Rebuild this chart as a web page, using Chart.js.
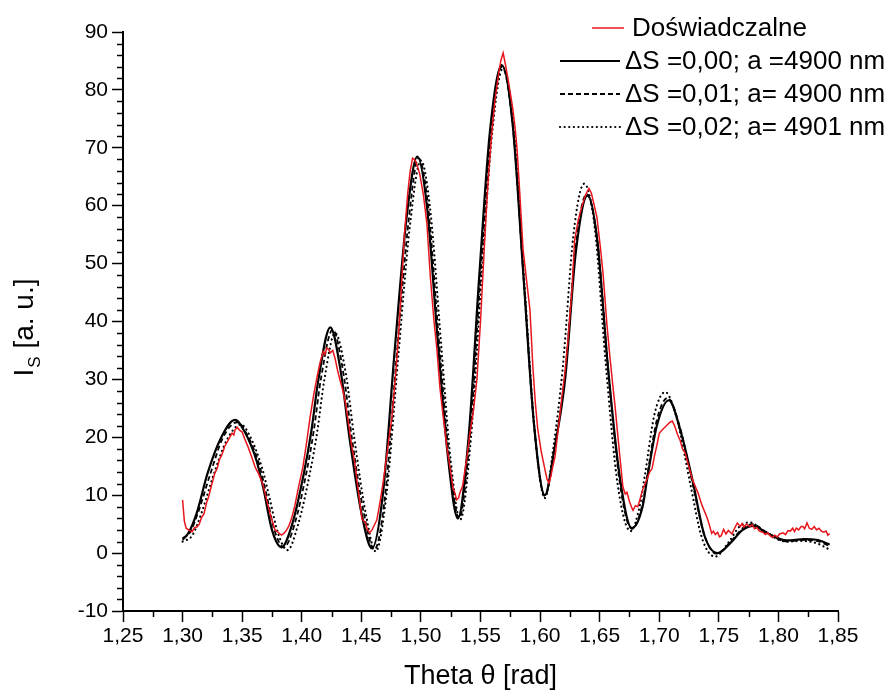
<!DOCTYPE html>
<html>
<head>
<meta charset="utf-8">
<script src="https://cdn.jsdelivr.net/npm/chart.js@4.4.1/dist/chart.umd.min.js"></script>
<style>
  html, body { margin: 0; padding: 0; background: #fff; }
  #wrap { width: 894px; height: 693px; }
</style>
</head>
<body>
<div id="wrap"><canvas id="chart" width="894" height="693"></canvas></div>
<script>
// [theta (rad), intensity (a.u.)]
const experimental = [
  [1.300, 9.2], [1.3015, 5.5], [1.303, 4.3], [1.305, 4.0], [1.308, 3.7], [1.310, 4.4], [1.312, 4.5],
  [1.314, 5.0], [1.316, 6.2], [1.318, 6.8], [1.320, 8.6], [1.322, 9.8], [1.324, 11.5], [1.327, 13.8],
  [1.329, 14.6], [1.331, 16.2], [1.333, 17.0], [1.3355, 18.5], [1.338, 19.4], [1.3415, 20.7], [1.343, 20.4],
  [1.344, 21.3], [1.346, 21.7], [1.348, 21.2], [1.350, 20.9], [1.352, 19.8], [1.355, 18.3], [1.358, 16.6],
  [1.361, 14.8], [1.364, 13.6], [1.3675, 11.8], [1.371, 8.8], [1.3745, 6.0], [1.3776, 4.0], [1.380, 3.6],
  [1.383, 3.1], [1.385, 3.4], [1.387, 3.9], [1.389, 4.6], [1.3915, 6.0], [1.394, 8.0], [1.3975, 11.6],
  [1.401, 14.9], [1.404, 19.0], [1.407, 23.5], [1.410, 27.3], [1.4128, 30.4], [1.4155, 33.0], [1.418, 34.8],
  [1.4195, 34.3], [1.421, 35.4], [1.4225, 35.2], [1.424, 34.6], [1.426, 35.0], [1.428, 33.6], [1.430, 31.6],
  [1.4325, 29.6], [1.4346, 28.0], [1.437, 25.6], [1.4395, 22.0], [1.442, 18.4], [1.4446, 15.5], [1.447, 11.5],
  [1.4495, 7.5], [1.4505, 5.9], [1.452, 5.6], [1.4535, 5.2], [1.455, 4.1], [1.457, 3.5], [1.459, 4.0],
  [1.461, 4.9], [1.463, 5.7], [1.4655, 8.6], [1.468, 11.8], [1.470, 14.8], [1.473, 19.5], [1.4757, 23.5],
  [1.478, 29.0], [1.480, 34.0], [1.483, 43.5], [1.486, 54.5], [1.489, 62.3], [1.491, 66.0], [1.493, 68.2],
  [1.4945, 68.0], [1.496, 67.5], [1.499, 65.5], [1.502, 62.0], [1.505, 57.0], [1.508, 47.5], [1.511, 40.0],
  [1.5135, 35.0], [1.516, 28.5], [1.519, 23.0], [1.522, 18.0], [1.525, 14.0], [1.527, 11.2], [1.5285, 10.4],
  [1.530, 9.2], [1.5315, 9.5], [1.533, 10.6], [1.535, 11.6], [1.5386, 16.6], [1.541, 20.5], [1.544, 24.5],
  [1.547, 30.0], [1.550, 40.0], [1.553, 52.0], [1.556, 63.0], [1.559, 71.5], [1.562, 78.0], [1.565, 82.5],
  [1.567, 85.0], [1.569, 86.4], [1.571, 84.3], [1.573, 82.0], [1.575, 79.5], [1.577, 76.9], [1.579, 73.5],
  [1.5806, 70.0], [1.583, 62.0], [1.5857, 52.5], [1.589, 46.5], [1.5915, 42.0], [1.594, 32.0], [1.596, 26.0],
  [1.598, 21.5], [1.601, 17.5], [1.604, 14.5], [1.6058, 12.8], [1.6074, 12.1], [1.609, 13.2], [1.6105, 14.8],
  [1.6125, 16.6], [1.615, 21.0], [1.618, 26.4], [1.621, 31.5], [1.6234, 36.8], [1.6267, 45.4], [1.629, 54.0],
  [1.632, 57.5], [1.635, 59.8], [1.638, 61.8], [1.641, 63.0], [1.643, 62.2], [1.6455, 60.0], [1.6477, 58.0],
  [1.6505, 53.0], [1.6528, 48.4], [1.656, 39.7], [1.6586, 33.9], [1.661, 29.0], [1.663, 25.2], [1.665, 20.8],
  [1.667, 16.6], [1.6695, 11.4], [1.6715, 10.2], [1.6729, 10.5], [1.675, 8.9], [1.677, 7.8], [1.678, 7.4],
  [1.680, 8.2], [1.682, 8.0], [1.684, 9.4], [1.686, 10.9], [1.689, 12.4], [1.692, 14.0], [1.694, 14.6],
  [1.696, 16.8], [1.698, 18.6], [1.700, 20.7], [1.703, 21.4], [1.706, 22.0], [1.709, 22.6], [1.711, 22.8],
  [1.713, 21.9], [1.7155, 20.4], [1.7175, 19.5], [1.7195, 18.0], [1.7215, 17.4], [1.725, 14.8], [1.728, 12.6],
  [1.7325, 10.4], [1.736, 8.2], [1.740, 6.2], [1.742, 4.9], [1.744, 3.4], [1.7455, 3.8], [1.747, 3.2],
  [1.749, 3.6], [1.7505, 2.8], [1.752, 3.0], [1.754, 4.1], [1.756, 3.3], [1.758, 3.9], [1.761, 3.3],
  [1.763, 4.2], [1.7655, 5.2], [1.768, 4.6], [1.7695, 5.1], [1.771, 4.5], [1.773, 5.0], [1.776, 4.6],
  [1.778, 4.9], [1.780, 4.2], [1.782, 4.4], [1.784, 3.8], [1.787, 3.6], [1.789, 3.2], [1.791, 3.5],
  [1.793, 3.0], [1.795, 2.7], [1.797, 3.1], [1.799, 2.8], [1.801, 3.3], [1.804, 3.5], [1.806, 3.2],
  [1.808, 3.9], [1.810, 3.8], [1.812, 4.3], [1.8135, 3.7], [1.815, 4.3], [1.817, 4.0], [1.819, 4.6],
  [1.8205, 4.6], [1.822, 4.2], [1.824, 5.2], [1.826, 4.3], [1.828, 4.1], [1.830, 4.6], [1.832, 4.0],
  [1.834, 4.3], [1.836, 3.8], [1.838, 3.6], [1.840, 3.8], [1.8415, 3.1], [1.843, 3.4]
];

// fit dS = 0.00, a = 4900 nm
const fitS000 = [
  [1.300, 2.3], [1.305, 3.5], [1.312, 7.0], [1.321, 13.8], [1.332, 19.8], [1.344, 23.0], [1.352, 21.0],
  [1.362, 16.0], [1.368, 11.0], [1.375, 4.0], [1.383, 1.0], [1.392, 5.0], [1.402, 14.0], [1.408, 21.0],
  [1.414, 30.0], [1.424, 39.0], [1.433, 31.0], [1.440, 20.0], [1.450, 7.0], [1.459, 0.8], [1.468, 10.0],
  [1.478, 35.0], [1.488, 58.0], [1.497, 68.5], [1.505, 60.0], [1.514, 37.0], [1.523, 16.0], [1.531, 6.0],
  [1.540, 20.0], [1.549, 48.0], [1.558, 73.0], [1.568, 84.3], [1.577, 74.0], [1.586, 48.0], [1.595, 22.0],
  [1.604, 10.0], [1.612, 18.0], [1.621, 30.0], [1.630, 52.0], [1.640, 61.8], [1.648, 54.0], [1.657, 32.0],
  [1.667, 13.0], [1.677, 4.3], [1.686, 8.0], [1.690, 13.0], [1.698, 22.0], [1.708, 26.4], [1.718, 21.0],
  [1.728, 12.5], [1.738, 3.0], [1.749, 0.0], [1.760, 1.8], [1.770, 4.0], [1.779, 4.7], [1.790, 3.5],
  [1.807, 2.2], [1.822, 2.4], [1.832, 2.3], [1.843, 1.5]
];

// fit dS = 0.01, a = 4900 nm
const fitS001 = [
  [1.300, 2.6], [1.306, 3.5], [1.313, 7.0], [1.323, 13.5], [1.334, 20.0], [1.346, 22.6], [1.354, 20.5],
  [1.364, 15.5], [1.370, 10.5], [1.377, 4.0], [1.385, 1.0], [1.394, 5.0], [1.404, 14.0], [1.410, 21.0],
  [1.416, 30.0], [1.426, 38.6], [1.435, 31.0], [1.442, 20.0], [1.452, 7.0], [1.461, 0.6], [1.470, 10.0],
  [1.480, 35.0], [1.490, 58.0], [1.498, 68.2], [1.506, 60.0], [1.515, 37.0], [1.524, 16.0], [1.532, 6.0],
  [1.541, 20.0], [1.550, 48.0], [1.559, 73.0], [1.568, 84.0], [1.577, 74.0], [1.586, 48.0], [1.595, 22.0],
  [1.604, 9.8], [1.612, 18.0], [1.621, 31.0], [1.630, 53.0], [1.639, 62.0], [1.648, 54.0], [1.657, 32.0],
  [1.667, 12.0], [1.677, 4.2], [1.686, 8.5], [1.690, 13.5], [1.698, 23.0], [1.707, 26.8], [1.717, 22.0],
  [1.728, 12.0], [1.738, 3.0], [1.748, -0.1], [1.760, 2.0], [1.770, 4.3], [1.778, 5.0], [1.790, 3.6],
  [1.807, 2.0], [1.822, 2.3], [1.832, 2.1], [1.843, 1.2]
];

// fit dS = 0.02, a = 4901 nm
const fitS002 = [
  [1.300, 2.0], [1.308, 3.0], [1.316, 7.0], [1.326, 13.5], [1.337, 19.5], [1.349, 22.2], [1.357, 20.0],
  [1.367, 14.5], [1.373, 9.5], [1.380, 3.5], [1.388, 0.5], [1.397, 5.0], [1.407, 14.0], [1.413, 21.0],
  [1.419, 30.0], [1.428, 38.0], [1.437, 31.0], [1.444, 20.0], [1.454, 6.5], [1.462, 0.3], [1.471, 10.0],
  [1.481, 34.0], [1.491, 57.0], [1.500, 67.8], [1.508, 59.0], [1.517, 36.0], [1.525, 16.0], [1.533, 5.8],
  [1.542, 20.0], [1.551, 48.0], [1.560, 73.0], [1.569, 83.8], [1.578, 73.0], [1.587, 46.0], [1.596, 20.0],
  [1.604, 9.5], [1.611, 18.0], [1.619, 32.0], [1.628, 55.0], [1.637, 63.8], [1.646, 56.0], [1.655, 33.0],
  [1.665, 12.0], [1.676, 3.8], [1.684, 8.5], [1.688, 13.5], [1.696, 24.0], [1.705, 27.8], [1.715, 23.0],
  [1.726, 12.0], [1.736, 2.5], [1.747, -0.6], [1.758, 1.8], [1.767, 4.5], [1.776, 5.3], [1.788, 3.8],
  [1.806, 2.0], [1.820, 2.1], [1.832, 1.7], [1.843, 0.6]
];

const seriesLabels = [
  'Doświadczalne',
  '\u0394S =0,00; a =4900 nm',
  '\u0394S =0,01; a= 4900 nm',
  '\u0394S =0,02; a= 4901 nm'
];

const FONT = "'Liberation Sans', Arial, sans-serif";
Chart.defaults.font.family = FONT;
Chart.defaults.color = '#000';

const toPoints = arr => arr.map(([x, y]) => ({ x, y }));

// small ticks between the labelled ones
const minorTicks = {
  id: 'minorTicks',
  afterDraw(chart) {
    const { ctx, chartArea, scales } = chart;
    ctx.save();
    ctx.strokeStyle = '#000';
    ctx.lineWidth = 1.5;
    for (let v = -10; v <= 90; v += 2) {
      if (v % 10 === 0) continue;
      const py = Math.round(scales.y.getPixelForValue(v)) + 0.5;
      ctx.beginPath();
      ctx.moveTo(chartArea.left - 6, py);
      ctx.lineTo(chartArea.left, py);
      ctx.stroke();
    }
    for (let k = 1; k < 24; k += 2) {
      const px = Math.round(scales.x.getPixelForValue(1.25 + k * 0.025)) + 0.5;
      ctx.beginPath();
      ctx.moveTo(px, chartArea.bottom);
      ctx.lineTo(px, chartArea.bottom + 6);
      ctx.stroke();
    }
    ctx.restore();
  }
};

// y title with subscript S
const yTitle = {
  id: 'yTitle',
  afterDraw(chart) {
    const { ctx, chartArea } = chart;
    const cy = (chartArea.top + chartArea.bottom) / 2 + 6;
    ctx.save();
    ctx.translate(23, cy);
    ctx.rotate(-Math.PI / 2);
    ctx.fillStyle = '#000';
    ctx.textBaseline = 'alphabetic';
    const big = '28px ' + FONT, small = '17px ' + FONT;
    ctx.font = big;
    const w1 = ctx.measureText('I').width + 1;
    const w3 = ctx.measureText(' [a. u.]').width;
    ctx.font = small;
    const w2 = ctx.measureText('S').width;
    let x = -(w1 + w2 + w3) / 2;
    ctx.font = big;
    ctx.fillText('I', x, 10);
    x += w1;
    ctx.font = small;
    ctx.fillText('S', x, 17);
    x += w2;
    ctx.font = big;
    ctx.fillText(' [a. u.]', x, 10);
    ctx.restore();
  }
};

// legend in the upper right corner
const cornerLegend = {
  id: 'cornerLegend',
  afterDraw(chart) {
    const { ctx } = chart;
    const rows = [
      { x0: 592, x1: 624, tx: 632, y: 28 },
      { x0: 560, x1: 620, tx: 625, y: 61 },
      { x0: 560, x1: 620, tx: 625, y: 94 },
      { x0: 560, x1: 620, tx: 625, y: 127 }
    ];
    ctx.save();
    ctx.font = '26px ' + FONT;
    ctx.textBaseline = 'middle';
    ctx.fillStyle = '#000';
    chart.data.datasets.forEach((ds, i) => {
      const r = rows[i];
      ctx.strokeStyle = ds.borderColor;
      ctx.lineWidth = ds.borderWidth;
      ctx.lineCap = ds.borderCapStyle || 'butt';
      ctx.setLineDash(ds.borderDash || []);
      ctx.beginPath();
      ctx.moveTo(r.x0, r.y);
      ctx.lineTo(r.x1, r.y);
      ctx.stroke();
      ctx.setLineDash([]);
      ctx.fillText(ds.label, r.tx, r.y + 1);
    });
    ctx.restore();
  }
};

new Chart(document.getElementById('chart'), {
  type: 'line',
  data: {
    datasets: [
      {
        label: seriesLabels[0],
        data: toPoints(experimental),
        borderColor: '#e8161c',
        borderWidth: 1.5,
        pointRadius: 0,
        tension: 0,
        order: 0
      },
      {
        label: seriesLabels[1],
        data: toPoints(fitS000),
        borderColor: '#000',
        borderWidth: 2.2,
        pointRadius: 0,
        cubicInterpolationMode: 'monotone',
        order: 1
      },
      {
        label: seriesLabels[2],
        data: toPoints(fitS001),
        borderColor: '#000',
        borderWidth: 1.8,
        borderDash: [5, 3],
        pointRadius: 0,
        cubicInterpolationMode: 'monotone',
        order: 2
      },
      {
        label: seriesLabels[3],
        data: toPoints(fitS002),
        borderColor: '#000',
        borderWidth: 2.2,
        borderDash: [0.1, 4.5],
        borderCapStyle: 'round',
        pointRadius: 0,
        cubicInterpolationMode: 'monotone',
        order: 3
      }
    ]
  },
  options: {
    responsive: false,
    animation: false,
    layout: { padding: { top: 32, right: 56, left: 0, bottom: 0 } },
    plugins: {
      legend: { display: false },
      tooltip: { enabled: false }
    },
    scales: {
      x: {
        type: 'linear',
        min: 1.25,
        max: 1.85,
        afterFit: s => { s.height = 82; },
        border: { color: '#000', width: 2 },
        grid: { drawOnChartArea: false, tickLength: 11, tickColor: '#000', tickWidth: 1.5 },
        ticks: {
          stepSize: 0.05,
          padding: 2,
          font: { size: 21 },
          callback: v => v.toFixed(2).replace('.', ',')
        },
        title: {
          display: true,
          text: 'Theta \u03B8 [rad]',
          font: { size: 27 },
          padding: { top: 0, bottom: 0 }
        }
      },
      y: {
        min: -10,
        max: 90,
        afterFit: s => { s.width = 123; },
        border: { color: '#000', width: 2 },
        grid: { drawOnChartArea: false, tickLength: 11, tickColor: '#000', tickWidth: 1.5 },
        ticks: {
          stepSize: 10,
          padding: 4,
          font: { size: 21 }
        }
      }
    }
  },
  plugins: [minorTicks, yTitle, cornerLegend]
});
</script>
</body>
</html>
